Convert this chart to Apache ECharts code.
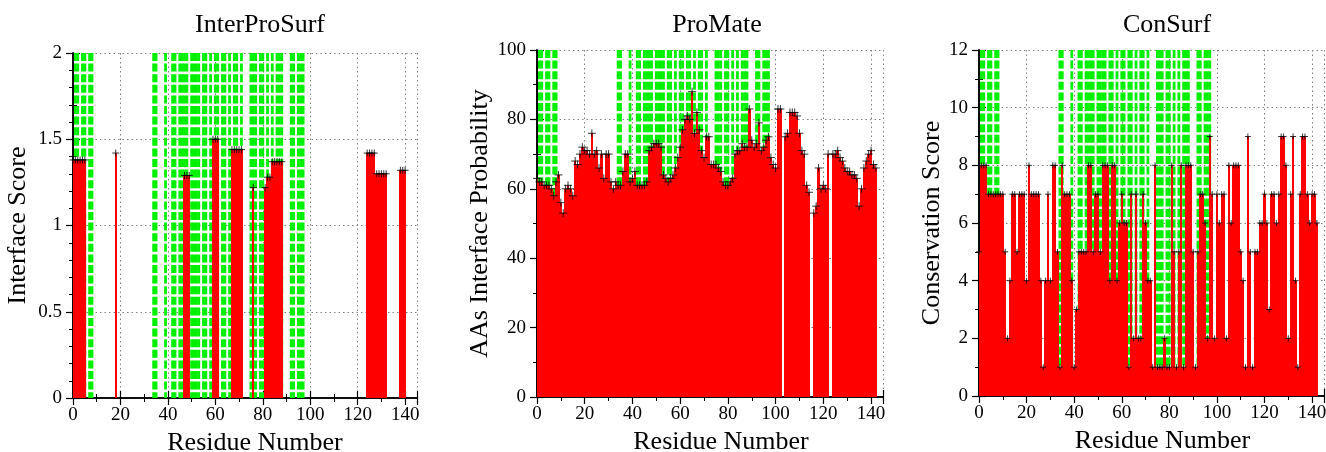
<!DOCTYPE html>
<html>
<head>
<meta charset="utf-8">
<title>InterProSurf / ProMate / ConSurf</title>
<script src="https://cdn.jsdelivr.net/npm/echarts@6/dist/echarts.min.js"></script>
<style>
html, body { margin: 0; padding: 0; background: #fff; }
#chart { width: 1326px; height: 452px; }
</style>
</head>
<body>
<div id="chart"></div>
<script>
// real interface residues (green dashed lines, same in all three panels)
var interfaceResidues = [1, 2, 4, 5, 7, 8, 34, 35, 39, 42, 43, 45, 46, 47, 48, 50, 51, 52, 53,
  55, 56, 58, 60, 61, 63, 64, 66, 68, 69, 71, 75, 76, 77, 79, 80, 82, 84, 86, 87, 88, 92, 93, 95, 96, 97];

// InterProSurf: only predicted residues get a score
var ipsResidues = [0, 1, 2, 3, 4, 5, 18, 47, 48, 49, 59, 60, 61, 67, 68, 69, 70, 71, 76, 81,
  82, 83, 84, 85, 86, 87, 88, 124, 125, 126, 127, 128, 129, 130, 131, 132, 138, 139, 140];
var ipsScores = [1.38, 1.38, 1.38, 1.38, 1.38, 1.38, 1.42, 1.29, 1.29, 1.29, 1.5, 1.5, 1.5,
  1.44, 1.44, 1.44, 1.44, 1.44, 1.22, 1.22, 1.28, 1.28, 1.37, 1.37, 1.37, 1.37, 1.37,
  1.42, 1.42, 1.42, 1.42, 1.3, 1.3, 1.3, 1.3, 1.3, 1.32, 1.32, 1.32];

// ProMate: probability for residue 0..142 (0 = no value)
var promateValues = [63, 62, 62, 61, 61, 61, 60, 58, 62, 64,
  56, 53, 60, 61, 60, 58, 68, 67, 70, 72,
  71, 71, 70, 76, 70, 71, 66, 70, 63, 70,
  70, 62, 60, 62, 61, 61, 65, 70, 70, 62,
  63, 65, 61, 61, 61, 61, 62, 71, 72, 73,
  73, 73, 72, 64, 63, 62, 63, 64, 66, 69,
  72, 77, 80, 81, 80, 88, 76, 82, 77, 71,
  69, 75, 75, 67, 67, 67, 66, 65, 62, 61,
  61, 62, 63, 70, 71, 71, 73, 72, 72, 83,
  74, 72, 73, 79, 71, 72, 74, 75, 69, 67,
  66, 83, 83, 0, 75, 76, 82, 82, 82, 81,
  76, 71, 70, 61, 59, 0, 53, 55, 66, 60,
  61, 60, 70, 0, 70, 70, 71, 69, 68, 66,
  65, 65, 64, 64, 63, 55, 60, 66, 68, 70,
  71, 67, 66];

// ConSurf: conservation score for residue 0..142
var consurfValues = [5, 8, 8, 8, 7, 7, 7, 7, 7, 7, 7, 5, 2, 4, 7, 7, 5, 7, 7, 7,
  4, 8, 7, 7, 7, 7, 4, 1, 4, 7, 4, 8, 8, 5, 1, 8, 7, 7, 7, 4,
  1, 3, 5, 5, 5, 5, 8, 8, 5, 7, 7, 5, 8, 8, 8, 4, 8, 8, 4, 6,
  7, 6, 6, 1, 7, 2, 7, 2, 2, 7, 6, 4, 4, 1, 8, 1, 1, 1, 2, 1,
  1, 8, 5, 1, 5, 8, 1, 8, 8, 8, 5, 1, 5, 7, 7, 6, 2, 9, 7, 2,
  7, 6, 7, 7, 2, 8, 6, 8, 8, 8, 5, 4, 1, 9, 5, 1, 5, 5, 6, 6,
  7, 6, 3, 7, 7, 6, 7, 9, 9, 8, 2, 7, 9, 4, 1, 7, 9, 9, 7, 6,
  7, 7, 6];

var serif = "'Liberation Serif', 'DejaVu Serif', serif";

var panels = [
  { title: 'InterProSurf', yName: 'Interface Score', yMax: 2, yStep: 0.5, ySplit: 5,
    left: 73, top: 53, width: 344, height: 345, titleX: 255, nameGap: 42, nameX: 20,
    xs: ipsResidues, ys: ipsScores, mark: 7 },
  { title: 'ProMate', yName: 'AAs Interface Probability', yMax: 100, yStep: 20, ySplit: 2,
    left: 537, top: 50, width: 346, height: 347, titleX: 712, nameGap: 42, nameX: 22,
    xs: promateValues.map(function (v, i) { return i; }), ys: promateValues, mark: 8 },
  { title: 'ConSurf', yName: 'Conservation Score', yMax: 12, yStep: 2, ySplit: 2,
    left: 979, top: 50, width: 345, height: 346, titleX: 1162, nameGap: 28, nameX: 22,
    xs: consurfValues.map(function (v, i) { return i; }), ys: consurfValues, mark: 6 }
];

var chart = echarts.init(document.getElementById('chart'));

var grids = [], xAxes = [], yAxes = [], series = [], titles = [];

panels.forEach(function (p, i) {
  // outerBoundsMode none: keep the plot box where it is set, names may sit near the edge
  grids.push({ left: p.left, top: p.top, width: p.width, height: p.height, outerBoundsMode: 'none' });
  titles.push({ text: p.title, left: p.titleX, top: 7, textAlign: 'center',
    textStyle: { fontFamily: serif, fontSize: 26, fontWeight: 'normal', color: '#000' } });

  var tick = { show: true, inside: true, length: 7, lineStyle: { color: '#000', width: 1.2 } };
  var minor = { show: true, length: 4, lineStyle: { color: '#000', width: 1 } };
  var line = { show: true, lineStyle: { color: '#000', width: 1.6 } };
  var grid = { show: true, lineStyle: { color: '#808080', width: 1, type: [1.5, 3] } };
  var label = { color: '#000', fontFamily: serif, fontSize: 19 };

  xAxes.push({
    type: 'value', gridIndex: i, min: 0, max: 145, interval: 20,
    name: 'Residue Number', nameLocation: 'middle', nameGap: 30,
    nameTextStyle: { fontFamily: serif, fontSize: 26, color: '#000', padding: [0, 0, 0, p.nameX] },
    axisLine: line, axisTick: tick, minorTick: Object.assign({ splitNumber: 2 }, minor),
    axisLabel: Object.assign({ margin: 8, showMaxLabel: false }, label), splitLine: grid
  });
  xAxes.push({
    type: 'value', gridIndex: i, position: 'top', min: 0, max: 145, interval: 20,
    axisLine: line, axisTick: tick, minorTick: Object.assign({ splitNumber: 2 }, minor),
    axisLabel: { show: false }, splitLine: { show: false }
  });
  yAxes.push({
    type: 'value', gridIndex: i, min: 0, max: p.yMax, interval: p.yStep,
    name: p.yName, nameLocation: 'middle', nameGap: p.nameGap,
    nameTextStyle: { fontFamily: serif, fontSize: 26, color: '#000' },
    axisLine: line, axisTick: tick, minorTick: Object.assign({ splitNumber: p.ySplit }, minor),
    axisLabel: Object.assign({ margin: 11 }, label), splitLine: grid
  });
  yAxes.push({
    type: 'value', gridIndex: i, position: 'right', min: 0, max: p.yMax, interval: p.yStep,
    axisLine: line, axisTick: tick, minorTick: Object.assign({ splitNumber: p.ySplit }, minor),
    axisLabel: { show: false }, splitLine: { show: false }
  });

  // green dashed lines for the real interface residues
  series.push({
    type: 'custom', xAxisIndex: 2 * i, yAxisIndex: 2 * i, z: 1, silent: true,
    data: interfaceResidues.map(function (r) { return [r, 0]; }),
    renderItem: function (params, api) {
      var cs = params.coordSys;
      var x = api.coord([api.value(0), 0])[0];
      return {
        type: 'line',
        shape: { x1: x, y1: cs.y, x2: x, y2: cs.y + cs.height },
        style: { stroke: '#00f000', lineWidth: 2.8, lineDash: [8, 2.6] }
      };
    }
  });

  var pts = p.xs.map(function (x, k) { return [x, p.ys[k]]; });

  // red boxes, edges snapped to whole pixels so neighbours join without seams
  series.push({
    type: 'custom', xAxisIndex: 2 * i, yAxisIndex: 2 * i, z: 2, silent: true, clip: true,
    data: pts,
    renderItem: function (params, api) {
      var x = api.value(0), v = api.value(1);
      if (!v) return null;
      var a = api.coord([x - 0.5, v]);
      var b = api.coord([x + 0.5, 0]);
      var x0 = Math.round(a[0]), x1 = Math.round(b[0]);
      return {
        type: 'rect',
        shape: { x: x0, y: a[1], width: x1 - x0, height: b[1] - a[1] },
        style: { fill: '#ff0000' }
      };
    }
  });

  // black + at the top of every box
  series.push({
    type: 'scatter', xAxisIndex: 2 * i, yAxisIndex: 2 * i, z: 3, silent: true,
    data: pts.filter(function (d) { return d[1] > 0; }),
    symbol: 'path://M0,5L10,5M5,0L5,10', symbolSize: p.mark,
    itemStyle: { color: 'transparent', borderColor: '#000', borderWidth: 1 }
  });
});

chart.setOption({
  animation: false,
  backgroundColor: '#fff',
  title: titles,
  grid: grids,
  xAxis: xAxes,
  yAxis: yAxes,
  series: series
});
</script>
</body>
</html>
